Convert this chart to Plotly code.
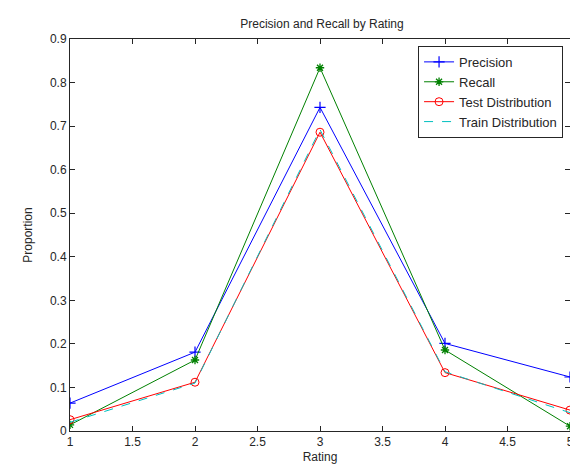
import plotly.graph_objects as go

ratings = [1, 2, 3, 4, 5]
precision = [0.064, 0.181, 0.743, 0.201, 0.124]
recall = [0.014, 0.163, 0.834, 0.186, 0.011]
test_dist = [0.026, 0.112, 0.686, 0.134, 0.048]
train_dist = [0.020, 0.110, 0.692, 0.136, 0.042]

x_ticks = [1, 1.5, 2, 2.5, 3, 3.5, 4, 4.5, 5]
y_ticks = [0, 0.1, 0.2, 0.3, 0.4, 0.5, 0.6, 0.7, 0.8, 0.9]

FONT = "Liberation Sans, Arial, sans-serif"
INK = "#262626"

fig = go.Figure()
fig.add_trace(go.Scatter(x=ratings, y=precision, name="Precision", mode="lines+markers",
                         line=dict(color="#0000FF", width=1),
                         marker=dict(symbol="cross-thin", size=8, color="#0000FF",
                                     line=dict(color="#0000FF", width=1.2))))
fig.add_trace(go.Scatter(x=ratings, y=recall, name="Recall", mode="lines+markers",
                         line=dict(color="#008000", width=1),
                         marker=dict(symbol="asterisk", size=7, color="#008000",
                                     line=dict(color="#008000", width=1.3))))
fig.add_trace(go.Scatter(x=ratings, y=test_dist, name="Test Distribution", mode="lines+markers",
                         line=dict(color="#FF0000", width=1),
                         marker=dict(symbol="circle-open", size=8, color="#FF0000",
                                     line=dict(color="#FF0000", width=1))))
fig.add_trace(go.Scatter(x=ratings, y=train_dist, name="Train Distribution", mode="lines",
                         line=dict(color="#00BFBF", width=1, dash="dash")))

axis_common = dict(showline=True, linecolor=INK, linewidth=1, mirror="ticks",
                   ticks="inside", ticklen=5, tickcolor=INK, showgrid=False,
                   zeroline=False, tickfont=dict(family=FONT, size=12, color=INK))

fig.update_layout(
    width=578, height=466,
    margin=dict(l=62, r=12, t=31, b=39),
    paper_bgcolor="white", plot_bgcolor="white",
    title=dict(text="Precision and Recall by Rating", x=0.5 * (62 + 566) / 578, xanchor="center",
               y=1 - 16 / 466, yanchor="middle",
               font=dict(family=FONT, size=12, color=INK)),
    xaxis=dict(range=[1, 5], tickvals=x_ticks, ticktext=[f"{v:g}" for v in x_ticks],
               title=dict(text="Rating", font=dict(family=FONT, size=12, color=INK), standoff=4),
               **axis_common),
    yaxis=dict(range=[0, 0.9], tickvals=y_ticks, ticktext=[f"{v:g}" for v in y_ticks],
               title=dict(text="Proportion", font=dict(family=FONT, size=12, color=INK), standoff=14),
               **axis_common),
    legend=dict(x=(559 - 62) / 504, y=1 - (38 - 31) / 396, xanchor="right", yanchor="top",
                bordercolor=INK, borderwidth=1, bgcolor="white",
                font=dict(family=FONT, size=13, color=INK),
                tracegroupgap=0, itemwidth=30),
    showlegend=True,
)

fig.write_html("out.html")
